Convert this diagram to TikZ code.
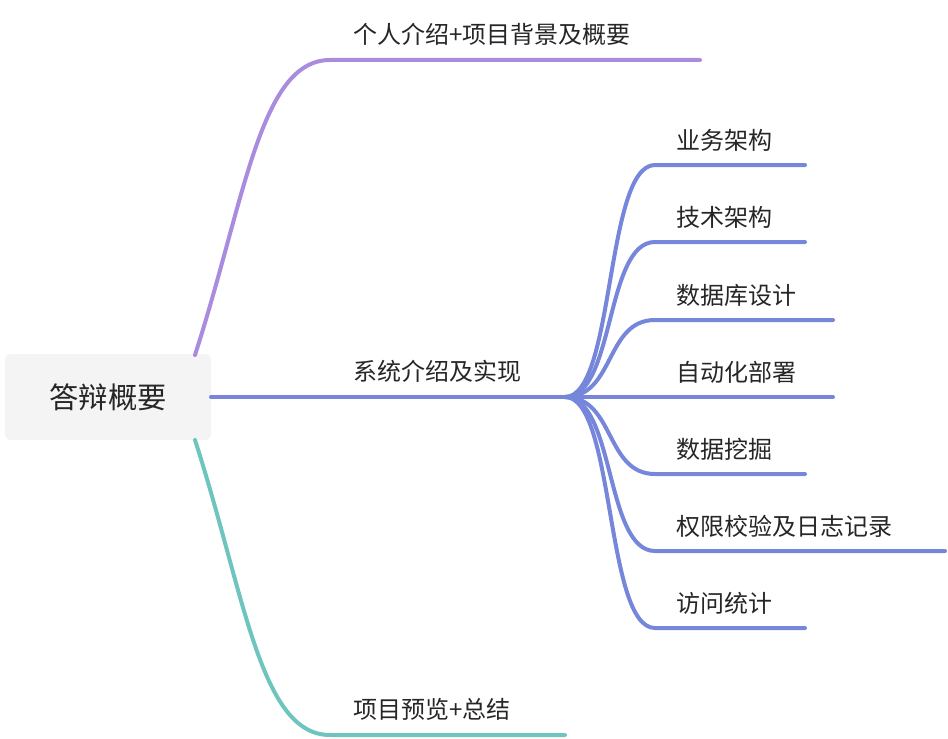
\documentclass[tikz,border=0pt]{standalone}
\usepackage{fontspec}
\newfontfamily\cjk{Noto Sans CJK SC}
\usetikzlibrary{positioning}
\definecolor{purplebr}{RGB}{170,140,222}
\definecolor{bluebr}{RGB}{117,134,219}
\definecolor{tealbr}{RGB}{110,197,192}
\definecolor{rootfill}{RGB}{244,244,244}
\tikzset{
  root/.style={fill=rootfill, rounded corners=4pt, minimum width=154.5pt, minimum height=64.5pt, font=\cjk\fontsize{22}{26}\selectfont, text=black!85},
  label/.style={anchor=south west, inner sep=0pt, font=\cjk\fontsize{18}{22}\selectfont, text=black!85},
  branch/.style={line width=3pt, line cap=round}
}
\begin{document}
\begin{tikzpicture}[x=0.75pt, y=-0.75pt]
    \useasboundingbox (0,0) rectangle (948,738);
    % root
    \node (Root) [root] at (108,397) {答辩概要};
    % first level
    \coordinate (IntroA) at (330,60);  \coordinate (IntroB) at (700,60);
    \coordinate (SysA)   at (211,397); \coordinate (SysB)   at (565,397);
    \coordinate (PrevA)  at (330,735); \coordinate (PrevB)  at (565,735);
    \node (Intro) [label] at (353,46)  {个人介绍+项目背景及概要};
    \node (Sys)   [label] at (353,383) {系统介绍及实现};
    \node (Prev)  [label] at (353,721) {项目预览+总结};
    \draw [branch, purplebr] (195,355) .. controls (245,200) and (260,60) .. (IntroA) -- (IntroB);
    \draw [branch, bluebr] (SysA) -- (SysB);
    \draw [branch, tealbr] (195,440) .. controls (245,595) and (260,735) .. (PrevA) -- (PrevB);
    % second level
    \foreach \name/\txt/\y/\xend in {Biz/业务架构/165/805, Tech/技术架构/242/805, Db/数据库设计/320/833, Ops/自动化部署/397/833, Mine/数据挖掘/474/805, Auth/权限校验及日志记录/551/945, Stat/访问统计/628/805} {
        \coordinate (\name A) at (655,\y);
        \coordinate (\name B) at (\xend,\y);
        \node (\name) [label] at (676,\y-13) {\txt};
        \draw [branch, bluebr] (SysB) .. controls (615,397) and (605,\y) .. (\name A) -- (\name B);
    }
\end{tikzpicture}
\end{document}
